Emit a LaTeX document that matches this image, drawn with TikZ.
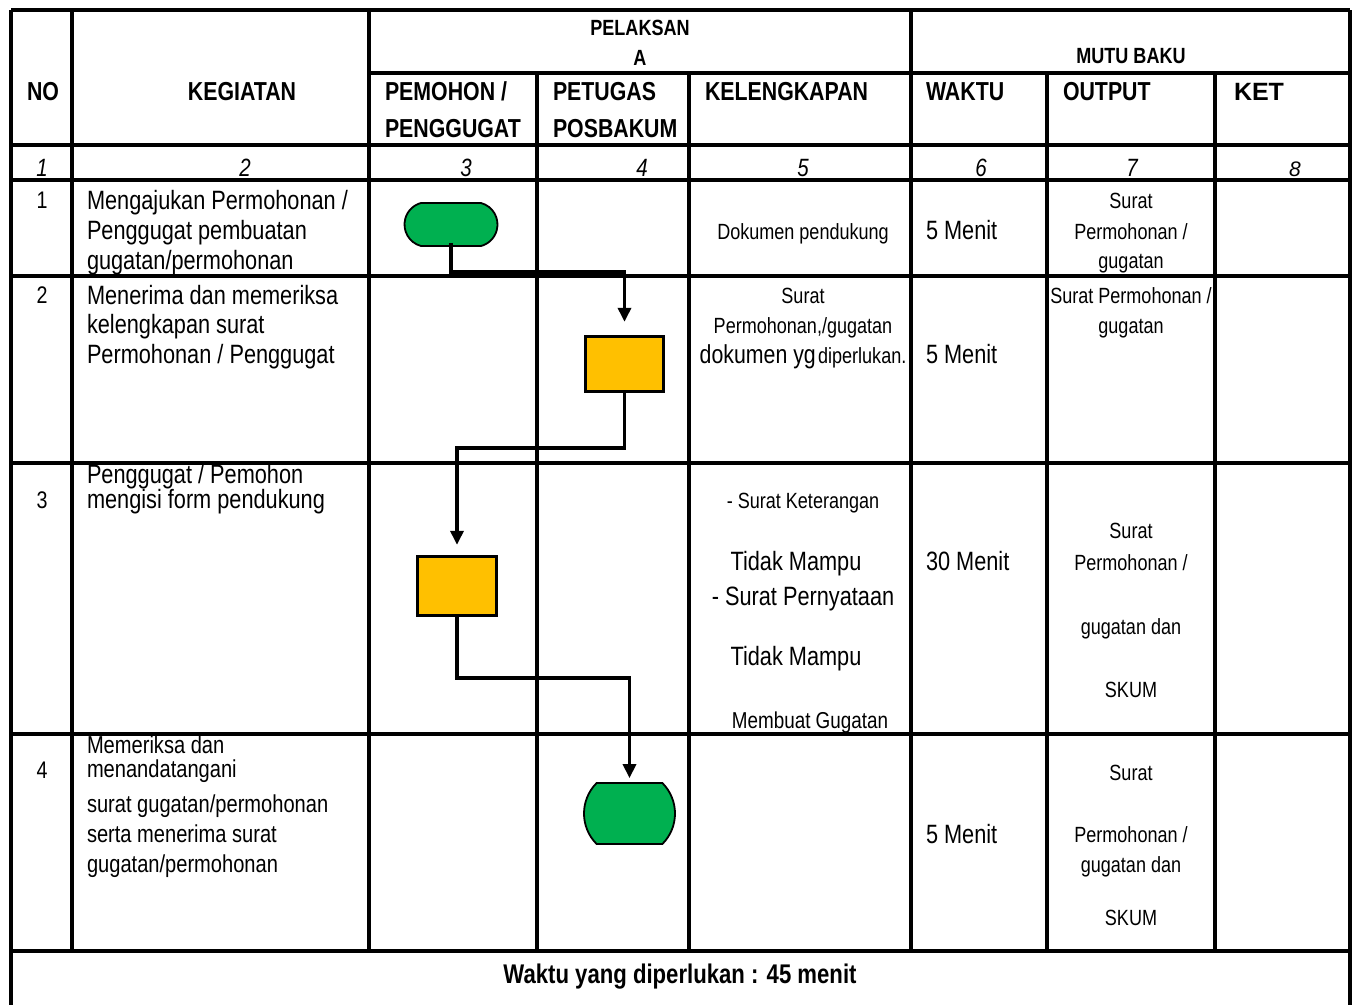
\documentclass[tikz,border=0pt]{standalone}
\usepackage{fontspec}
\setmainfont{Liberation Sans}[FakeStretch=0.82]
\newfontfamily\widefont{Liberation Sans}
\usetikzlibrary{arrows.meta,shapes.misc}
\definecolor{tgreen}{HTML}{00B050}
\definecolor{tyellow}{HTML}{FFC000}
\begin{document}
\begin{tikzpicture}[x=1pt,y=-1pt,
  grid/.style={line width=3.4pt},
  txt/.style={inner sep=0pt,outer sep=0pt},
  tl/.style={txt,anchor=base west},
  tc/.style={txt,anchor=base},
  fbig/.style={font=\fontsize{26.5}{30}\selectfont},
  fmid/.style={font=\fontsize{24.5}{28}\selectfont},
  fsm/.style={font=\fontsize{22}{26}\selectfont},
  fnum/.style={font=\fontsize{24}{28}\selectfont},
  fit/.style={font=\fontsize{25}{28}\selectfont\itshape},
  hd/.style={font=\fontsize{26}{30}\selectfont\bfseries},
  hds/.style={font=\fontsize{22}{26}\selectfont\bfseries},
  term/.style={rounded rectangle,draw=black,line width=1.8pt,fill=tgreen,inner sep=0pt},
  proc/.style={rectangle,draw=black,line width=3.4pt,fill=tyellow,inner sep=0pt},
  arr/.style={line width=3.4pt,-{Triangle[length=14pt,width=13pt]}}
]
\useasboundingbox (0,0) rectangle (1354,1005);
\fill[white] (0,0) rectangle (1354,1005);

% ---------- grid ----------
\draw[grid] (11,10) -- (1350,10);
\draw[grid] (11,10) -- (11,1005);
\draw[grid] (1350,10) -- (1350,1005);
\draw[grid] (369,73) -- (1350,73);
\foreach \yy in {145,180,276,463,734,951}
  \draw[grid] (11,\yy) -- (1350,\yy);
\foreach \xx in {72,369,911}
  \draw[grid] (\xx,10) -- (\xx,951);
\foreach \xx in {537,689,1047,1215}
  \draw[grid] (\xx,73) -- (\xx,951);

% ---------- header ----------
\node[tc,hd] (hNo) at (43,100) {NO};
\node[tc,hd] (hKeg) at (242,100) {KEGIATAN};
\node[tc,hds] (hPel1) at (640,35) {PELAKSAN};
\node[tc,hds] (hPel2) at (640,65) {A};
\node[tc,hds] (hMutu) at (1131,63) {MUTU BAKU};
\node[tl,hd] (hPem1) at (385,100) {PEMOHON /};
\node[tl,hd] (hPem2) at (385,137) {PENGGUGAT};
\node[tl,hd] (hPet1) at (553,100) {PETUGAS};
\node[tl,hd] (hPet2) at (553,137) {POSBAKUM};
\node[tl,hd] (hKel) at (705,100) {KELENGKAPAN};
\node[tl,hd] (hWak) at (926,100) {WAKTU};
\node[tl,hd] (hOut) at (1063,100) {OUTPUT};
\node[tl,font=\widefont\fontsize{25}{30}\selectfont\bfseries] (hKet) at (1234,100) {KET};

% numbers row
\node[tc,fit] (c1) at (42,176) {1};
\node[tc,fit] (c2) at (245,176) {2};
\node[tc,fit] (c3) at (466,176) {3};
\node[tc,fit] (c4) at (642,176) {4};
\node[tc,fit] (c5) at (803,176) {5};
\node[tc,fit] (c6) at (981,176) {6};
\node[tc,fit] (c7) at (1132,176) {7};
\node[tc,font=\widefont\fontsize{21}{26}\selectfont\itshape] (c8) at (1295,176) {8};

% ---------- row 1 ----------
\node[tc,fnum] (r1n) at (42,208) {1};
\node[tl,fbig] (r1a) at (87,209) {Mengajukan Permohonan /};
\node[tl,fbig] (r1b) at (87,239) {Penggugat pembuatan};
\node[tl,fbig] (r1c) at (87,269) {gugatan/permohonan};
\node[tc,fsm] (r1k) at (803,239) {Dokumen pendukung};
\node[tl,fbig] (r1w) at (926,239) {5 Menit};
\node[tc,fsm] (r1o1) at (1131,208) {Surat};
\node[tc,fsm] (r1o2) at (1131,239) {Permohonan /};
\node[tc,fsm] (r1o3) at (1131,268) {gugatan};

% ---------- row 2 ----------
\node[tc,fnum] (r2n) at (42,303) {2};
\node[tl,fbig] (r2a) at (87,304) {Menerima dan memeriksa};
\node[tl,fbig] (r2b) at (87,333) {kelengkapan surat};
\node[tl,fbig] (r2c) at (87,363) {Permohonan / Penggugat};
\node[tc,fsm] (r2k1) at (803,303) {Surat};
\node[tc,fsm] (r2k2) at (803,333) {Permohonan,/gugatan};
\node[tc] (r2k3) at (803,363) {{\fontsize{26}{30}\selectfont dokumen yg} {\fontsize{22}{26}\selectfont diperlukan.}};
\node[tl,fbig] (r2w) at (926,363) {5 Menit};
\node[tc,fsm] (r2o1) at (1131,303) {Surat Permohonan /};
\node[tc,fsm] (r2o2) at (1131,333) {gugatan};

% ---------- row 3 ----------
\node[tc,fnum] (r3n) at (42,508) {3};
\node[tl,fbig] (r3a) at (87,483) {Penggugat / Pemohon};
\node[tl,fbig] (r3b) at (87,508) {mengisi form pendukung};
\node[tc,fsm] (r3k1) at (803,508) {- Surat Keterangan};
\node[tc,fbig] (r3k2) at (796,570) {Tidak Mampu};
\node[tc,fbig] (r3k3) at (803,605) {- Surat Pernyataan};
\node[tc,fbig] (r3k4) at (796,665) {Tidak Mampu};
\node[tc,font=\fontsize{23}{27}\selectfont] (r3k5) at (810,728) {Membuat Gugatan};
\node[tl,fbig] (r3w) at (926,570) {30 Menit};
\node[tc,fsm] (r3o1) at (1131,538) {Surat};
\node[tc,fsm] (r3o2) at (1131,570) {Permohonan /};
\node[tc,fsm] (r3o3) at (1131,634) {gugatan dan};
\node[tc,fsm] (r3o4) at (1131,697) {SKUM};

% ---------- row 4 ----------
\node[tc,fnum] (r4n) at (42,778) {4};
\node[tl,fmid] (r4a) at (87,753) {Memeriksa dan};
\node[tl,fmid] (r4b) at (87,777) {menandatangani};
\node[tl,fmid] (r4c) at (87,812) {surat gugatan/permohonan};
\node[tl,fmid] (r4d) at (87,842) {serta menerima surat};
\node[tl,fmid] (r4e) at (87,872) {gugatan/permohonan};
\node[tl,fbig] (r4w) at (926,843) {5 Menit};
\node[tc,fsm] (r4o1) at (1131,780) {Surat};
\node[tc,fsm] (r4o2) at (1131,842) {Permohonan /};
\node[tc,fsm] (r4o3) at (1131,872) {gugatan dan};
\node[tc,fsm] (r4o4) at (1131,925) {SKUM};

% footer
\node[tc,font=\fontsize{27}{30}\selectfont\bfseries] (foot) at (680,983) {Waktu yang diperlukan : 45 menit};

% ---------- flow shapes ----------
\node[term,rounded rectangle arc length=150,minimum width=93pt,minimum height=43pt] (t1) at (451,224.5) {};
\node[proc,minimum width=78pt,minimum height=55pt] (b1) at (624.5,364) {};
\node[proc,minimum width=79pt,minimum height=59pt] (b2) at (457,586) {};
\node[term,rounded rectangle arc length=90,minimum width=91pt,minimum height=61pt] (t2) at (629.5,813.5) {};

\coordinate (h1) at (0,272);
\coordinate (h2) at (0,448);
\coordinate (h3) at (0,678);
\draw[arr,shorten >=13pt] ([yshift=4pt]t1.south) -- (t1.south |- h1) -| (b1.north);
\draw[arr,shorten >=10pt] (b1.south) -- (b1.south |- h2) -| (b2.north);
\draw[arr,shorten >=4pt] (b2.south) -- (b2.south |- h3) -| (t2.north);
\end{tikzpicture}
\end{document}
